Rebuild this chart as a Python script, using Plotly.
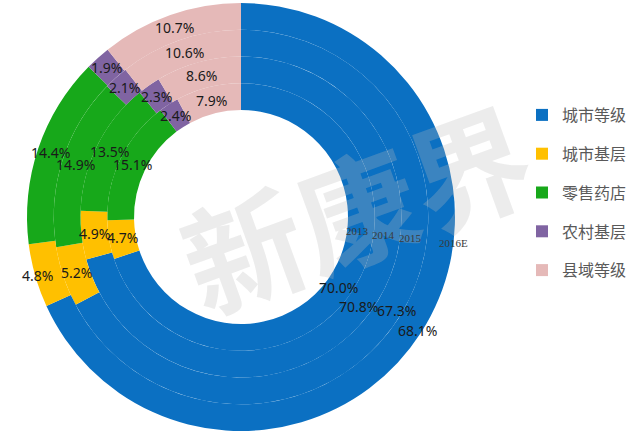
import math
import plotly.graph_objects as go

# ---------------- data ----------------
categories = ["城市等级", "城市基层", "零售药店", "农村基层", "县域等级"]
years = ["2013", "2014", "2015", "2016E"]          # inner ring -> outer ring
share_2013 = [70.0, 4.7, 15.1, 2.4, 7.9]
share_2014 = [70.8, 4.9, 13.5, 2.3, 8.6]
share_2015 = [67.3, 5.2, 14.9, 2.1, 10.6]
share_2016E = [68.1, 4.8, 14.4, 1.9, 10.7]
series = [share_2013, share_2014, share_2015, share_2016E]

# ---------------- style ----------------
colors = ["#0B70C2", "#FFC000", "#17A81A", "#8064A2", "#E5B9B8"]
W, H = 640, 433
CX, CY = 241, 217          # chart centre (px)
R_HOLE, R_OUT = 107, 214   # hole radius and outer radius (px)
ring_w = (R_OUT - R_HOLE) / len(series)
label_font = dict(family="Noto Sans, Lato, sans-serif", size=14, color="#1A1A1A")
# small outward nudges of some labels (ring index, category index) -> px
label_nudge = {(2, 0): 7, (3, 0): 9, (3, 1): 11}

fig = go.Figure()
annotations = []

for i, (yr, vals) in enumerate(zip(years, series)):
    r_in = R_HOLE + ring_w * i
    r_out = r_in + ring_w
    dx = r_out / W
    dy = r_out / H
    fig.add_trace(go.Pie(
        labels=categories,
        values=vals,
        name=yr,
        sort=False,
        direction="clockwise",
        rotation=0,
        hole=r_in / r_out,
        domain=dict(x=[CX / W - dx, CX / W + dx], y=[1 - CY / H - dy, 1 - CY / H + dy]),
        marker=dict(colors=colors, line=dict(width=0)),
        textinfo="none",
        hoverinfo="skip",
        showlegend=False,
    ))
    # data labels at slice mid-angle, ring mid-radius
    total = sum(vals)
    cum = 0.0
    r_mid = (r_in + r_out) / 2
    for j, v in enumerate(vals):
        mid = (cum + v / 2) / total * 2 * math.pi
        cum += v
        rr = r_mid + label_nudge.get((i, j), 0)
        px = CX + rr * math.sin(mid)
        py = CY - rr * math.cos(mid)
        annotations.append(dict(
            x=px / W, y=1 - py / H, xref="paper", yref="paper",
            text=f"{v:.1f}%", showarrow=False, font=label_font,
            xanchor="center", yanchor="middle",
        ))
    # year label near the inner edge of each ring, a little below 3 o'clock
    ang = math.radians(97)
    ry = r_in + 10 if i < 3 else r_out
    px = CX + ry * math.sin(ang)
    py = CY - ry * math.cos(ang)
    annotations.append(dict(
        x=px / W, y=1 - py / H, xref="paper", yref="paper",
        text=yr, showarrow=False,
        font=dict(family="Liberation Serif, serif", size=11, color="#3A3A3A"),
        xanchor="center", yanchor="middle",
    ))

# legend entries (one per category)
for cat, col in zip(categories, colors):
    fig.add_trace(go.Scatter(
        x=[None], y=[None], mode="markers", name=cat, legendgroup=cat,
        marker=dict(symbol="square", size=9, color=col),
        showlegend=True, hoverinfo="skip",
    ))

# faint watermark (drawn beneath the labels)
watermark = dict(
    x=355 / W, y=1 - 205 / H, xref="paper", yref="paper",
    text="<b>新康界</b>", showarrow=False, textangle=-20,
    font=dict(family="Noto Sans CJK SC", size=120, color="rgba(185,185,185,0.28)"),
    xanchor="center", yanchor="middle",
)
annotations.insert(0, watermark)

fig.update_layout(
    width=W, height=H,
    margin=dict(l=0, r=0, t=0, b=0),
    paper_bgcolor="white", plot_bgcolor="white",
    xaxis=dict(visible=False), yaxis=dict(visible=False),
    annotations=annotations,
    legend=dict(
        x=522 / W, y=1 - 98 / H, xanchor="left", yanchor="top",
        font=dict(family="Noto Sans CJK SC", size=16, color="#595959"),
        tracegroupgap=15, itemsizing="constant", bgcolor="rgba(0,0,0,0)",
        itemwidth=30,
    ),
    showlegend=True,
)

fig.write_html(
    "out.html",
    config={"displayModeBar": False},
    post_script="document.body.style.margin='0';",
)
